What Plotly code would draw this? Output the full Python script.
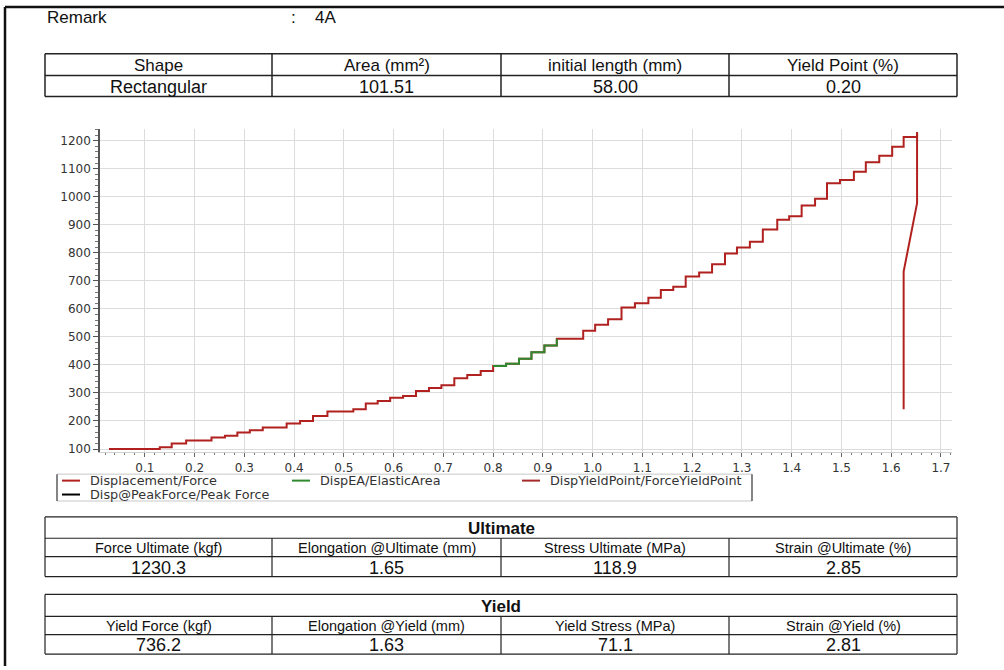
import plotly.graph_objects as go

# ---------------- data ----------------
remark_label = "Remark"
remark_value = "4A"

top_headers = ["Shape", "Area (mm²)", "initial length (mm)", "Yield Point (%)"]
top_values = ["Rectangular", "101.51", "58.00", "0.20"]

ult_title = "Ultimate"
ult_headers = ["Force Ultimate (kgf)", "Elongation @Ultimate (mm)", "Stress Ultimate (MPa)", "Strain @Ultimate (%)"]
ult_values = ["1230.3", "1.65", "118.9", "2.85"]

yld_title = "Yield"
yld_headers = ["Yield Force (kgf)", "Elongation @Yield (mm)", "Yield Stress (MPa)", "Strain @Yield (%)"]
yld_values = ["736.2", "1.63", "71.1", "2.81"]

# displacement (mm) at each step and force (kgf) level after the step
disp = [0.028, 0.130, 0.154, 0.183, 0.234, 0.261, 0.286, 0.311, 0.337, 0.385,
        0.412, 0.438, 0.467, 0.519, 0.544, 0.568, 0.593, 0.619, 0.645, 0.671,
        0.696, 0.722, 0.748, 0.775, 0.800, 0.826, 0.852, 0.877, 0.903, 0.928,
        0.981, 1.005, 1.031, 1.058, 1.085, 1.112, 1.137, 1.162, 1.187, 1.214,
        1.240, 1.266, 1.290, 1.316, 1.342, 1.371, 1.395, 1.420, 1.447, 1.471,
        1.497, 1.525, 1.549, 1.576, 1.602, 1.625, 1.652]
force = [100, 106, 120, 130, 141, 147, 159, 167, 177, 191,
         200, 218, 234, 242, 262, 271, 283, 289, 307, 318,
         327, 352, 364, 378, 396, 404, 422, 445, 469, 493,
         522, 543, 563, 605, 620, 640, 667, 679, 715, 730,
         759, 797, 819, 839, 883, 918, 930, 969, 993, 1048,
         1060, 1089, 1123, 1146, 1178, 1213, 1230]

# elastic area range (mm)
ea_start, ea_end = 0.800, 0.928

# unloading / yield point line
unload_disp = [1.652, 1.652, 1.625, 1.625]
unload_force = [1230, 977, 733, 242]

legend_names = ["Displacement/Force", "DispEA/ElasticArea",
                "DispYieldPoint/ForceYieldPoint", "Disp@PeakForce/Peak Force"]

# ---------------- styling ----------------
W, H = 1004, 670
RED = "#b0211f"
RED2 = "#a52a2a"
GREEN = "#2f8a2f"
TFONT = "Liberation Sans, Arial, sans-serif"
CFONT = "DejaVu Sans, Verdana, sans-serif"


def X(px):
    return px / W


def Y(py):
    return 1 - py / H


fig = go.Figure()

fig.add_trace(go.Scatter(x=disp, y=force, mode="lines", line=dict(color=RED, width=2, shape="hv"),
                         showlegend=False, hoverinfo="skip"))
ea_x = [d for d in disp if ea_start <= d <= ea_end]
ea_y = [f for d, f in zip(disp, force) if ea_start <= d <= ea_end]
fig.add_trace(go.Scatter(x=ea_x, y=ea_y, mode="lines", line=dict(color=GREEN, width=2, shape="hv"),
                         showlegend=False, hoverinfo="skip"))
fig.add_trace(go.Scatter(x=unload_disp, y=unload_force, mode="lines", line=dict(color=RED, width=2),
                         showlegend=False, hoverinfo="skip"))

shapes = []
annotations = []


def line(x0, y0, x1, y1, color="#222", width=1.2):
    shapes.append(dict(type="line", xref="paper", yref="paper", x0=X(x0), y0=Y(y0), x1=X(x1), y1=Y(y1),
                       line=dict(color=color, width=width)))


def text(px, py, s, size, color="#111", anchor="center", bold=False, font=TFONT):
    if bold:
        s = "<b>" + s + "</b>"
    annotations.append(dict(xref="paper", yref="paper", x=X(px), y=Y(py), text=s, showarrow=False,
                            xanchor=anchor, yanchor="middle", font=dict(family=font, size=size, color=color)))


# outer frame
line(5, 7, 1004, 7, "#111", 2.5)
line(5, 7, 5, 670, "#111", 2.5)

# remark
text(45, 18, remark_label, 17, anchor="left")
text(289, 18, ":", 17, anchor="left")
text(313, 18, remark_value, 17, anchor="left")

cols = [45, 272, 501, 729, 957]


def grid_table(rows, headers, values, title=None, hsize=14, vsize=17, width=1.2):
    top, bot = rows[0], rows[-1]
    for r in rows:
        line(cols[0], r, cols[-1], r, "#222", width)
    line(cols[0], top, cols[0], bot, "#222", width)
    line(cols[-1], top, cols[-1], bot, "#222", width)
    start = 1 if title else 0
    for c in cols[1:-1]:
        line(c, rows[start], c, bot, "#222", width)
    if title:
        text((cols[0] + cols[-1]) / 2, (rows[0] + rows[1]) / 2 + 1, title, 17, bold=True)
    for i in range(4):
        cx = (cols[i] + cols[i + 1]) / 2
        text(cx, (rows[start] + rows[start + 1]) / 2 + 1, headers[i], hsize)
        text(cx, (rows[start + 1] + rows[start + 2]) / 2 + 1, values[i], vsize)


grid_table([54, 76, 97], top_headers, top_values, hsize=17, vsize=18, width=1.5)
grid_table([520, 541.5, 560, 580], ult_headers, ult_values, title=ult_title, hsize=14.5, vsize=18)
grid_table([598, 620, 638.5, 658], yld_headers, yld_values, title=yld_title, hsize=14.5, vsize=18)

# legend box
line(57, 477, 752, 477, "#c8c8c8", 1)
line(57, 504, 752, 504, "#c8c8c8", 1)
line(57, 477, 57, 504, "#333", 1.2)
line(752, 477, 752, 504, "#333", 1.2)
leg_items = [(62, 483.5, RED), (292, 483.5, GREEN), (522, 483.5, RED2), (62, 497.5, "#000")]
for (lx, ly, col), name in zip(leg_items, legend_names):
    line(lx, ly, lx + 18, ly, col, 2)
    text(lx + 26, ly, name, 12.8, color="#333", anchor="left", font=CFONT)

fig.update_layout(
    width=W, height=H,
    margin=dict(l=0, r=0, t=0, b=0),
    paper_bgcolor="white", plot_bgcolor="white",
    shapes=shapes, annotations=annotations,
    xaxis=dict(domain=[X(100), X(952)], range=[0.0099, 1.7222], dtick=0.1, tick0=0, tickformat=".1f",
               showgrid=True, gridcolor="#dcdcdc", gridwidth=1, zeroline=False,
               showline=True, linecolor="#cfcfcf", linewidth=1,
               ticks="outside", ticklen=4, tickcolor="#666", tickwidth=1,
               minor=dict(dtick=0.02, ticks="outside", ticklen=2, tickcolor="#777", showgrid=False),
               tickfont=dict(family=CFONT, size=12, color="#333")),
    yaxis=dict(domain=[Y(455), Y(130)], range=[88.3, 1240.8], dtick=100, tick0=0,
               showgrid=True, gridcolor="#dcdcdc", gridwidth=1, zeroline=False,
               showline=True, linecolor="#555", linewidth=1.5,
               ticks="outside", ticklen=5, tickcolor="#555", tickwidth=1,
               minor=dict(dtick=20, ticks="outside", ticklen=3, tickcolor="#777", showgrid=False),
               tickfont=dict(family=CFONT, size=12, color="#333")),
)

fig.write_html("out.html", config={"displayModeBar": False},
               post_script="document.body.style.margin='0';document.body.style.overflow='hidden';")
